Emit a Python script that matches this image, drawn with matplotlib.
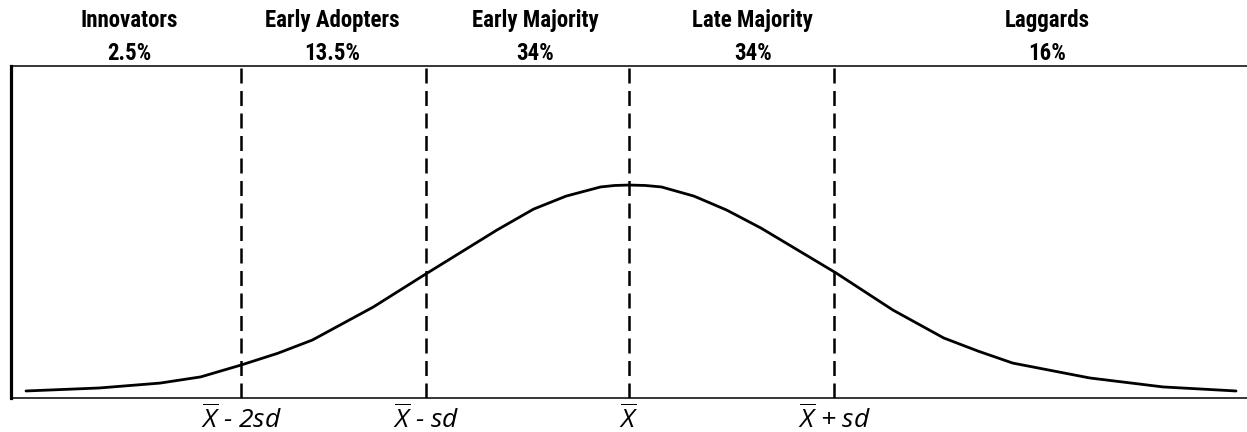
import matplotlib
matplotlib.use("Agg")
import matplotlib.pyplot as plt

plt.rcParams["mathtext.fontset"] = "custom"
plt.rcParams["mathtext.it"] = "Open Sans:italic"
plt.rcParams["mathtext.rm"] = "Open Sans"

# adopter categories and their shares
categories = ["Innovators", "Early Adopters", "Early Majority", "Late Majority", "Laggards"]
shares = ["2.5%", "13.5%", "34%", "34%", "16%"]
category_x = [-2.46, -1.46, -0.46, 0.61, 2.06]  # header centres, in sd units

# bell curve (x in sd units, y relative to peak)
curve_x = [-2.97, -2.61, -2.31, -2.11, -1.91, -1.73, -1.56, -1.26, -1.01, -0.65,
           -0.47, -0.31, -0.14, -0.07, 0.0, 0.08, 0.16, 0.32, 0.48, 0.65,
           1.02, 1.30, 1.55, 1.72, 1.89, 2.27, 2.63, 2.99]
curve_y = [0.033, 0.047, 0.070, 0.099, 0.155, 0.210, 0.272, 0.427, 0.577, 0.789,
           0.887, 0.948, 0.991, 0.998, 1.0, 0.998, 0.991, 0.948, 0.883, 0.798,
           0.587, 0.413, 0.282, 0.220, 0.164, 0.094, 0.052, 0.033]

# dividing lines and their labels
marker_x = [-1.91, -1.0, 0.0, 1.01]
marker_labels = [r"$\overline{X}$ - 2sd", r"$\overline{X}$ - sd",
                 r"$\overline{X}$", r"$\overline{X}$ + sd"]

fig = plt.figure(figsize=(12.47, 4.32), dpi=100)
ax = fig.add_axes([11 / 1247, 34 / 432, 1236 / 1247, 332 / 432])

ax.plot(curve_x, curve_y, color="black", linewidth=2.0,
        solid_capstyle="round", solid_joinstyle="round")
for xv in marker_x:
    ax.axvline(xv, color="black", linewidth=1.8, dashes=(6, 3))

ax.set_xlim(-3.044, 3.044)
ax.set_ylim(0, 1.559)

ax.spines["right"].set_visible(False)
ax.spines["left"].set_linewidth(2.3)
ax.spines["top"].set_linewidth(1.1)
ax.spines["bottom"].set_linewidth(1.1)

ax.set_yticks([])
ax.set_xticks(marker_x)
ax.set_xticklabels(marker_labels, fontsize=19, style="italic",
                   family=["Open Sans", "DejaVu Sans"])
ax.tick_params(axis="x", length=0, pad=5)

head_font = ["Roboto Condensed", "Liberation Sans Narrow", "DejaVu Sans"]
for xc, name, share in zip(category_x, categories, shares):
    ax.text(xc, (398 - 60) / 332, name + "\n" + share,
            transform=ax.get_xaxis_transform(),
            ha="center", va="baseline", fontsize=16.5, fontweight="bold",
            family=head_font, linespacing=1.55)

fig.savefig("out.png", dpi=100)
